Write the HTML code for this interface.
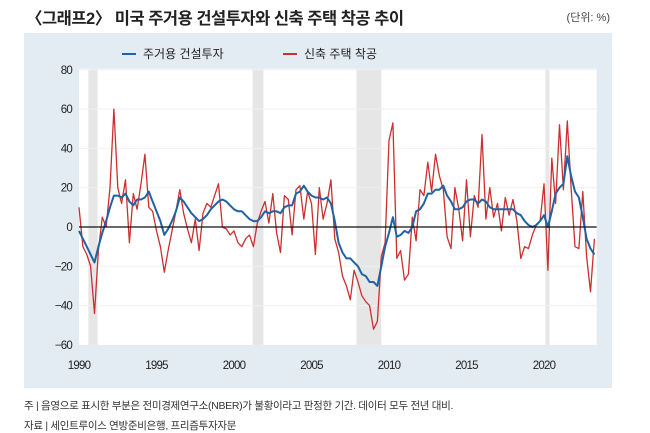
<!DOCTYPE html>
<html><head><meta charset="utf-8">
<style>
body{margin:0;width:650px;height:433px;background:#fff;position:relative;overflow:hidden;font-family:"Liberation Sans","Noto Sans CJK KR",sans-serif;}
#title{position:absolute;left:26px;top:5px;font-size:16.5px;font-weight:bold;color:#222;letter-spacing:-0.5px;}
#unit{position:absolute;right:40px;top:9px;font-size:11px;color:#444;}
#panel{position:absolute;left:24px;top:33px;width:588px;height:355px;background:#e4ecf3;}
.note{position:absolute;left:24px;font-size:10.5px;color:#333;letter-spacing:-0.3px;}
svg{position:absolute;left:0;top:0;}
</style></head><body>
<div id="title">〈그래프2〉 미국 주거용 건설투자와 신축 주택 착공 추이</div>
<div id="unit">(단위: %)</div>
<div id="panel"></div>
<svg id="chart" width="650" height="433"></svg>
<div class="note" style="top:398px">주 | 음영으로 표시한 부분은 전미경제연구소(NBER)가 불황이라고 판정한 기간. 데이터 모두 전년 대비.</div>
<div class="note" style="top:418px">자료 | 세인트루이스 연방준비은행, 프리즘투자자문</div>
<script>
const yTicks=[80,60,40,20,0,-20,-40,-60];
const xTicks=[1990,1995,2000,2005,2010,2015,2020];
const recessions=[[1990.6,1991.2],[2001.2,2001.9],[2007.9,2009.5],[2020.1,2020.35]];
const investment=[-2,-6,-10,-14,-18,-10,-3,3,10,16,16,15,17,13,11,14,14,15,18,13,8,3,-4,-1,3,8,15,13,10,7,5,3,4,6,9,11,13,14,13,11,9,8,8,6,4,3,3,5,8,7,8,8,7,10,11,11,17,18,21,18,16,15,15,14,15,12,3,-8,-13,-16,-16,-18,-20,-24,-25,-28,-28,-30,-20,-10,-3,5,-5,-4,-2,-3,0,8,9,12,17,17,19,19,21,16,13,9,9,10,13,14,14,12,14,13,10,9,9,9,9,9,9,7,6,3,1,0,1,3,6,0,8,17,20,22,36,26,18,15,5,-6,-11,-14];
const starts=[10,-10,-14,-20,-44,-12,5,0,20,60,20,12,24,-8,17,9,22,37,10,8,-2,-10,-23,-12,-2,8,19,7,-1,-8,4,-12,7,12,10,16,22,0,-1,-4,-2,-8,-10,-6,-4,-10,2,8,13,2,17,-3,-13,16,14,-4,19,21,4,18,12,-14,20,4,12,24,-6,-13,-25,-30,-37,-22,-28,-35,-38,-40,-52,-48,-15,-8,44,53,-16,-12,-27,-24,5,-7,19,16,33,18,37,26,19,-5,-11,20,9,-7,24,-5,16,10,47,4,20,5,12,-2,15,6,14,3,-16,-10,-11,-4,1,3,22,-22,35,12,52,19,54,20,-10,-11,18,-15,-33,-6];
const NS="http://www.w3.org/2000/svg";
const svg=document.getElementById('chart');
const X0=79,XS=15.5,Y0=227,YS=39.3/20;
const xs=t=>X0+(t-1990)*XS, ys=v=>Y0-v*YS;
const L=xs(1990),R=xs(2023.4),T=ys(80)-1,B=ys(-60);
function el(tag,attrs){const e=document.createElementNS(NS,tag);for(const k in attrs)e.setAttribute(k,attrs[k]);svg.appendChild(e);return e;}
let pa=el('rect',{x:L,y:T,width:R-L,height:B-T,fill:'#fff'});


recessions.forEach(r=>{const e=el('rect',{x:xs(r[0]),y:T,width:xs(r[1])-xs(r[0]),height:B-T,fill:'#e6e6e6'});

});
yTicks.forEach(v=>{if(v!==0&&v!==-60){const g=el('line',{x1:L,x2:R,y1:ys(v),y2:ys(v),stroke:'#eef0f2','stroke-width':1});

}
const t=el('text',{x:72,y:ys(v)+4,'text-anchor':'end','font-size':11.5,fill:'#222','letter-spacing':'-0.8'});t.textContent=v<0?'−'+(-v):v;

});
xTicks.forEach(v=>{const t=el('text',{x:xs(v),y:369,'text-anchor':'middle','font-size':11.5,fill:'#222','letter-spacing':'-0.8'});t.textContent=v;

});
function path(arr,color,w,name){let d='';arr.forEach((v,i)=>{d+=(i?'L':'M')+xs(1990+i*0.25).toFixed(1)+','+ys(v).toFixed(1);});
const p=el('path',{d:d,fill:'none',stroke:color,'stroke-width':w,'stroke-linejoin':'round'});

}
path(starts,'#cc2f2f',1.3,'housing-starts-line');
path(investment,'#1f63a3',2,'residential-investment-line');
let z=el('line',{x1:L,x2:R,y1:ys(0),y2:ys(0),stroke:'#111','stroke-width':1.2});


[[122,'#1f63a3','주거용 건설투자'],[283,'#cc2f2f','신축 주택 착공']].forEach(l=>{
const ln=el('line',{x1:l[0],x2:l[0]+14,y1:54,y2:54,stroke:l[1],'stroke-width':2});


const t=el('text',{x:l[0]+21,y:58,'font-size':12,fill:'#222'});t.textContent=l[2];

});
</script>
</body></html>
